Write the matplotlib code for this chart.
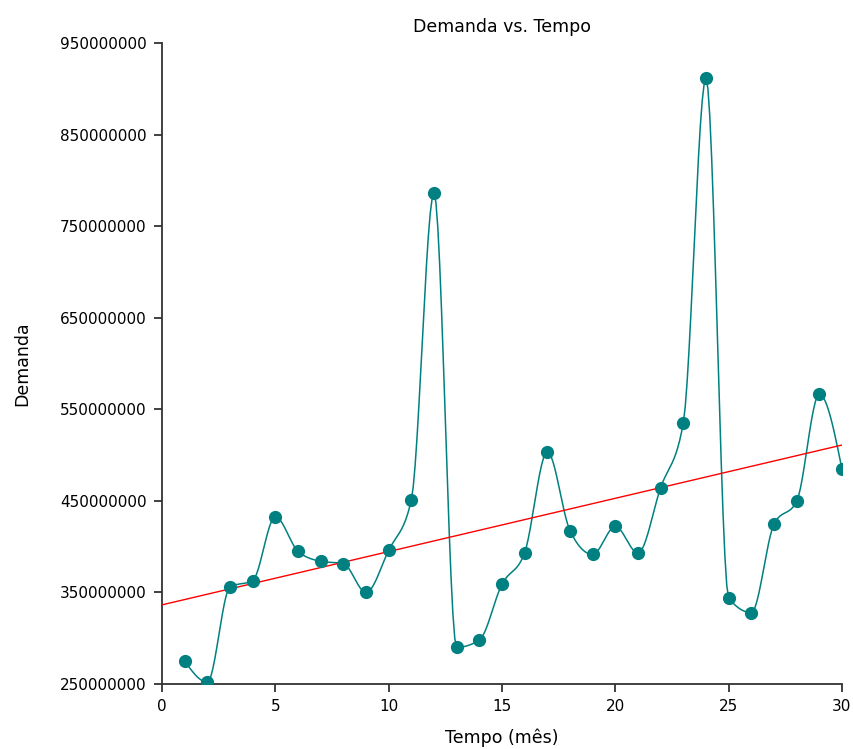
import numpy as np
import matplotlib
matplotlib.use("Agg")
import matplotlib.pyplot as plt

# ---- data ----
months = list(range(1, 31))
demand_millions = [275, 252, 356, 363, 432.5, 395, 384, 381.5, 350, 396,
                   451, 786, 290, 298, 359, 393.5, 503.5, 417.5, 391.5, 422,
                   393, 464.5, 535.5, 911.5, 344, 328, 424.5, 449.5, 566.5, 484.5]
x_ticks = [0, 5, 10, 15, 20, 25, 30]
y_ticks = [250000000, 350000000, 450000000, 550000000, 650000000, 750000000,
           850000000, 950000000]
y_tick_labels = [str(v) for v in y_ticks]

x = np.array(months, dtype=float)
y = np.array(demand_millions, dtype=float) * 1e6


def monotone_curve(xk, yk, n_per=12):
    """Monotone cubic (Steffen) used only to draw the smooth line through the points."""
    h = np.diff(xk)
    m = np.diff(yk) / h
    n = len(xk)
    t = np.zeros(n)
    for i in range(1, n - 1):
        s0, s1 = m[i - 1], m[i]
        p = (s0 * h[i] + s1 * h[i - 1]) / (h[i - 1] + h[i])
        sg = (-1 if s0 < 0 else 1) + (-1 if s1 < 0 else 1)
        t[i] = sg * min(abs(s0), abs(s1), 0.5 * abs(p))
    t[0] = (3 * m[0] - t[1]) / 2
    t[-1] = (3 * m[-1] - t[-2]) / 2
    xs, ys = [], []
    for k in range(n - 1):
        s = np.linspace(0, 1, n_per, endpoint=False)
        h00 = 2 * s**3 - 3 * s**2 + 1
        h10 = s**3 - 2 * s**2 + s
        h01 = -2 * s**3 + 3 * s**2
        h11 = s**3 - s**2
        xs.append(xk[k] + s * h[k])
        ys.append(h00 * yk[k] + h10 * h[k] * t[k] + h01 * yk[k + 1] + h11 * h[k] * t[k + 1])
    xs.append([xk[-1]])
    ys.append([yk[-1]])
    return np.concatenate(xs), np.concatenate(ys)


xs, ys = monotone_curve(x, y)
slope, intercept = np.polyfit(x, y, 1)
x_trend = np.array([0.0, 30.0])
y_trend = intercept + slope * x_trend

plt.rcParams['font.family'] = ['DejaVu Sans']

fig = plt.figure(figsize=(8.54, 7.49), dpi=100)
ax = fig.add_axes([162 / 854, 1 - 684 / 749, 680 / 854, 641 / 749])

teal = '#008080'
ax.plot(xs, ys, color=teal, linewidth=1.1, zorder=2)
ax.plot(x, y, linestyle='none', marker='o', markersize=9.5, markeredgewidth=0,
        color=teal, zorder=3)
ax.plot(x_trend, y_trend, color='#ff0000', linewidth=1.0, zorder=2)

ax.set_xlim(0, 30)
ax.set_ylim(250000000, 950000000)
ax.set_xticks(x_ticks)
ax.set_xticklabels([str(t) for t in x_ticks])
ax.set_yticks(y_ticks)
ax.set_yticklabels(y_tick_labels)

for side in ['top', 'right']:
    ax.spines[side].set_visible(False)
for side in ['left', 'bottom']:
    ax.spines[side].set_color('#333333')
    ax.spines[side].set_linewidth(1.3)
    ax.spines[side].set_zorder(1)

ax.tick_params(axis='both', direction='out', length=6, width=1.3, color='#333333',
               labelsize=11, labelcolor='black', pad=5)

ax.set_title('Demanda vs. Tempo', fontsize=12.5, pad=8)
ax.set_xlabel('Tempo (mês)', fontsize=12.5)
ax.set_ylabel('Demanda', fontsize=12.5)
ax.xaxis.set_label_coords(0.5, -0.07)
ax.yaxis.set_label_coords(-0.193, 0.5)

fig.savefig('out.png', dpi=100)
